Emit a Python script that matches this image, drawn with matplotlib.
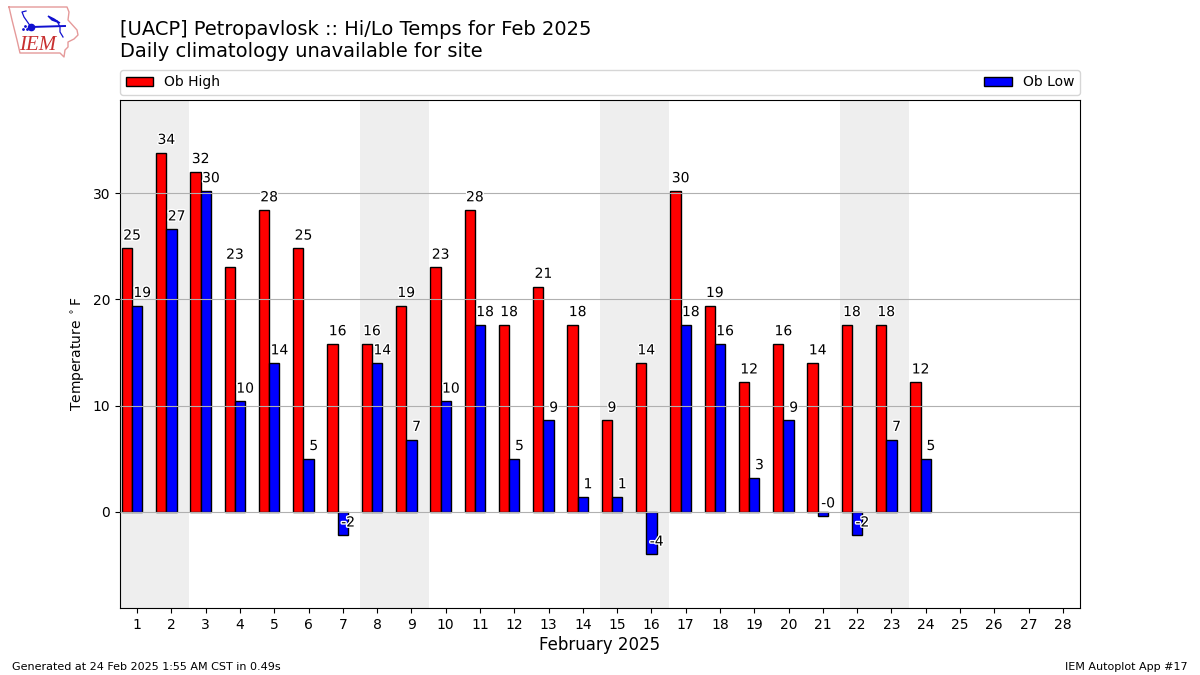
import matplotlib
matplotlib.use('Agg')
import matplotlib.pyplot as plt
import matplotlib.patheffects as PathEffects

days = list(range(1, 29))
obs_days = list(range(1, 25))
highs = [24.8, 33.8, 32.0, 23.0, 28.4, 24.8, 15.8, 15.8, 19.4, 23.0, 28.4, 17.6,
         21.2, 17.6, 8.6, 14.0, 30.2, 19.4, 12.2, 15.8, 14.0, 17.6, 17.6, 12.2]
lows = [19.4, 26.6, 30.2, 10.4, 14.0, 5.0, -2.2, 14.0, 6.8, 10.4, 17.6, 5.0,
        8.6, 1.4, 1.4, -4.0, 17.6, 15.8, 3.2, 8.6, -0.4, -2.2, 6.8, 5.0]
weekends = [(0.5, 2.5), (7.5, 9.5), (14.5, 16.5), (21.5, 23.5)]
yticks = [0, 10, 20, 30]

# logo outline and glyph, in pixels of the figure
iowa_x = [9, 67, 69, 68, 77, 78, 74, 68, 68, 65, 64, 60, 20, 17, 12, 9]
iowa_y = [7, 7, 12, 20, 30, 35, 39, 42, 47, 50, 57, 53, 53, 40, 20, 7]
wind_x = [31, 65]
wind_y = [27, 26]
barb_x = [31, 24, 22, 26]
barb_y = [27, 17, 12, 11]
vane_x = [48, 54, 60, 52, 48]
vane_y = [16, 19, 23, 20, 16]
tail_x = [57, 60, 60, 63]
tail_y = [21, 27, 32, 37]


def draw_logo(fig):
    ax = fig.add_axes([0, 0, 1, 1], zorder=5)
    ax.set_xlim(0, 1200)
    ax.set_ylim(675, 0)
    ax.axis('off')
    ax.plot(iowa_x, iowa_y, color='#e59a9a', lw=1.0)
    ax.plot(wind_x, wind_y, color='#1010d0', lw=1.4)
    ax.plot(barb_x, barb_y, color='#1010d0', lw=0.9)
    ax.fill(vane_x, vane_y, color='#1010d0')
    ax.plot(tail_x, tail_y, color='#1010d0', lw=0.9)
    ax.plot([31], [27], 'o', color='#1010d0', ms=4.5)
    ax.plot([23, 25, 27], [29, 26, 29], '.', color='#1010d0', ms=2)
    ax.text(37.5, 45, 'IEM', color='#c83030', fontsize=15, style='italic',
            family='Liberation Serif', ha='center', va='center')


def main():
    fig = plt.figure(figsize=(12, 6.75), dpi=100)
    ax = fig.add_axes([0.1, 0.0993, 0.8, 0.7526])

    for start, end in weekends:
        ax.axvspan(start, end, color='#eeeeee', lw=0, zorder=1)

    x_high = [d - 0.3 for d in obs_days]
    x_low = [d for d in obs_days]
    bars1 = ax.bar(x_high, highs, width=0.3, color='r', edgecolor='k', label='Ob High', zorder=2)
    bars2 = ax.bar(x_low, lows, width=0.3, color='b', edgecolor='k', label='Ob Low', zorder=2)

    for d, val in zip(obs_days, highs):
        t = ax.text(d - 0.15, val + 1.2, '%.0f' % val, ha='center', va='center', zorder=4)
        t.set_path_effects([PathEffects.withStroke(linewidth=2, foreground='white')])
    for d, val in zip(obs_days, lows):
        t = ax.text(d + 0.15, val + 1.2, '%.0f' % val, ha='center', va='center', zorder=4)
        t.set_path_effects([PathEffects.withStroke(linewidth=2, foreground='white')])

    ax.set_xlim(0.5, 28.5)
    ax.set_ylim(-9.04, 38.76)
    ax.set_xticks(days)
    ax.set_yticks(yticks)
    ax.yaxis.grid(True, color='#b0b0b0', lw=0.8, zorder=3)
    ax.set_axisbelow(False)
    ax.set_xlabel('February 2025', fontsize=12, labelpad=3)
    ax.set_ylabel(r'Temperature $^\circ$F')

    ax.legend(handles=[bars1, bars2], ncol=2, mode='expand', loc='lower left',
              bbox_to_anchor=(0, 1.0098, 1, 0.05), borderaxespad=0)

    fig.text(0.1, 0.909, '[UACP] Petropavlosk :: Hi/Lo Temps for Feb 2025\nDaily climatology unavailable for site',
             fontsize=14, ha='left', va='bottom')
    fig.text(0.01, 0.0045, 'Generated at 24 Feb 2025 1:55 AM CST in 0.49s', fontsize=8,
             ha='left', va='bottom')
    fig.text(0.99, 0.0045, 'IEM Autoplot App #17', fontsize=8, ha='right', va='bottom')
    draw_logo(fig)
    fig.savefig('out.png', dpi=100)


if __name__ == '__main__':
    main()
